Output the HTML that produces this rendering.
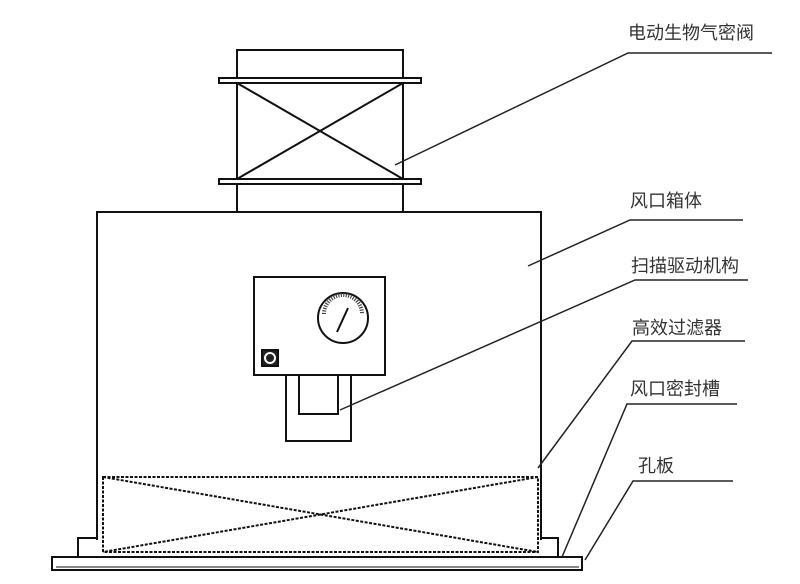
<!DOCTYPE html>
<html><head><meta charset="utf-8"><style>
html,body{margin:0;padding:0;background:#fff;}
svg{display:block}
text{font-family:"Liberation Sans","Noto Sans CJK SC",sans-serif;font-size:18px;fill:#333}
</style></head><body>
<svg width="800" height="584" viewBox="0 0 800 584" xmlns="http://www.w3.org/2000/svg">
<g fill="none" stroke="#111" stroke-width="2">
<!-- valve pipe -->
<rect x="237" y="50" width="166" height="162"/>
<rect x="219" y="78" width="202" height="5" fill="#fff"/>
<rect x="219" y="179" width="202" height="5" fill="#fff"/>
<line x1="237" y1="83" x2="403" y2="179"/>
<line x1="403" y1="83" x2="237" y2="179"/>
<!-- box (open bottom) -->
<polyline points="97,540 97,212 541,212 541,540"/>
<!-- control -->
<rect x="254" y="277" width="131" height="98"/>
<circle cx="343" cy="318" r="25"/>
<path d="M324,314 A19,19 0 0 1 362,314" stroke-width="4" stroke-dasharray="1.2 1.3" stroke="#444"/>
<line x1="337" y1="332" x2="348" y2="308" stroke-width="2"/>
<rect x="262" y="350" width="16" height="16" fill="#222"/>
<circle cx="270" cy="358" r="5" stroke="#fff" stroke-width="2"/>
<rect x="286" y="375" width="65" height="66"/>
<polyline points="299,375 299,414 338,414 338,375"/>
<!-- filter -->
<g stroke-dasharray="3 1.5" stroke-width="2">
<rect x="103" y="477" width="435" height="75"/>
<line x1="103" y1="477" x2="538" y2="552"/>
<line x1="538" y1="477" x2="103" y2="552"/>
</g>
<!-- flanges -->
<polyline points="97,538 78,538 78,557"/>
<polyline points="541,538 558,538 558,557"/>
<!-- plate -->
<rect x="52" y="557" width="530" height="13"/>
<line x1="56" y1="567" x2="579" y2="567" stroke-width="1"/>
</g>
<!-- leaders -->
<g fill="none" stroke="#222" stroke-width="1.5">
<polyline points="395,165 628,53 772,53"/>
<polyline points="528,266 630,220 743,220"/>
<polyline points="340,410 635,280 748,280"/>
<polyline points="538,468 632,341 745,341"/>
<polyline points="562,557 627,404 737,404"/>
<polyline points="585,560 633,481 733,481"/>
</g>
<text x="628" y="39">电动生物气密阀</text>
<text x="630" y="207">风口箱体</text>
<text x="631" y="272">扫描驱动机构</text>
<text x="632" y="334">高效过滤器</text>
<text x="630" y="395">风口密封槽</text>
<text x="638" y="472">孔板</text>
</svg>
</body></html>
